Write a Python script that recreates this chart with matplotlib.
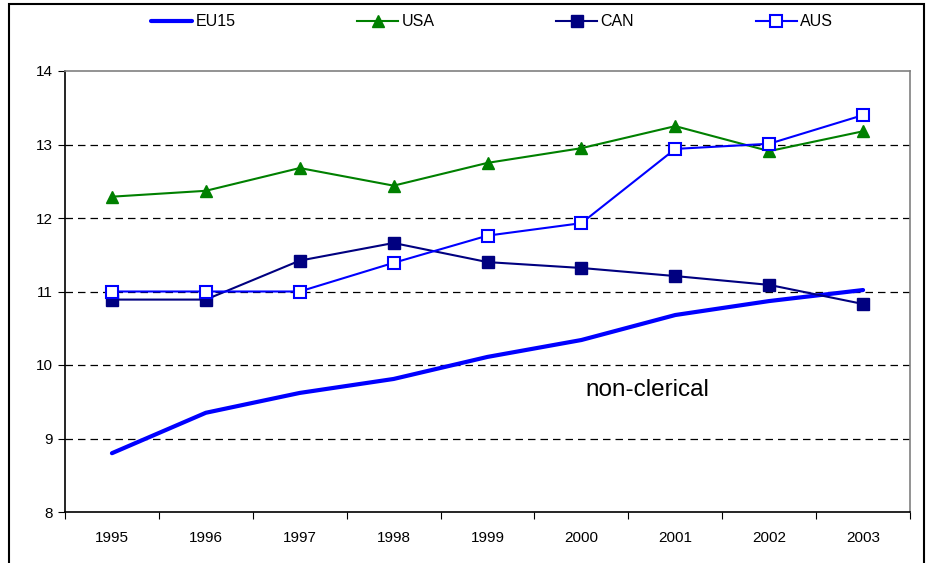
import numpy as np
import matplotlib.pyplot as plt
from matplotlib.patches import Rectangle

years = ['1995', '1996', '1997', '1998', '1999', '2000', '2001', '2002', '2003']
eu15 = [8.80, 9.35, 9.62, 9.81, 10.11, 10.34, 10.68, 10.87, 11.02]
usa = [12.29, 12.37, 12.68, 12.44, 12.75, 12.95, 13.25, 12.91, 13.18]
can = [10.89, 10.89, 11.42, 11.66, 11.40, 11.32, 11.21, 11.09, 10.83]
aus = [11.00, 11.00, 11.00, 11.39, 11.76, 11.93, 12.94, 13.01, 13.40]

plt.rcParams['font.family'] = ['Liberation Sans', 'DejaVu Sans']

fig = plt.figure(figsize=(9.27, 5.63), dpi=100)
ax = fig.add_axes([65/927, 51/563, 845/927, 441/563])
x = np.arange(len(years))

ax.plot(x, eu15, color='#0000FF', lw=3, label='EU15', solid_capstyle='round')
ax.plot(x, usa, color='#008000', lw=1.5, marker='^', ms=9, label='USA')
ax.plot(x, can, color='#000080', lw=1.5, marker='s', ms=8.5, label='CAN')
ax.plot(x, aus, color='#0000FF', lw=1.5, marker='s', ms=8, mfc='white',
        mec='#0000FF', mew=1.5, label='AUS')

ax.set_xlim(-0.5, len(years) - 0.5)
ax.set_ylim(8, 14)
ax.set_yticks(range(8, 15))
for v in range(9, 14):
    ax.axhline(v, color='black', lw=0.9, ls=(0, (6, 4)), zorder=0)

ax.set_xticks(np.arange(-0.5, len(years)), labels=[])
ax.set_xticks(x, labels=years, minor=True)
ax.tick_params(axis='x', which='major', length=5, direction='out')
ax.tick_params(axis='x', which='minor', length=0, pad=14, labelsize=11)
ax.tick_params(axis='y', length=5, direction='out', labelsize=11, pad=4)

for s in ['top', 'right']:
    ax.spines[s].set_color('#808080')
    ax.spines[s].set_linewidth(1.2)
for s in ['left', 'bottom']:
    ax.spines[s].set_color('black')
    ax.spines[s].set_linewidth(1.2)

ax.text(5.7, 9.66, 'non-clerical', fontsize=17.5, ha='center', va='center')

fig.legend(loc='center', bbox_to_anchor=(492/927, 1 - 22/563), ncol=4,
           frameon=False, fontsize=11.5, handlelength=2.6, columnspacing=7.6,
           handletextpad=0.2)

fig.add_artist(Rectangle((9/927, -0.05), 915/927, 1.05 - 4/563, fill=False,
                         ec='black', lw=1.5, transform=fig.transFigure,
                         clip_on=False))

fig.savefig('out.png', dpi=100)
